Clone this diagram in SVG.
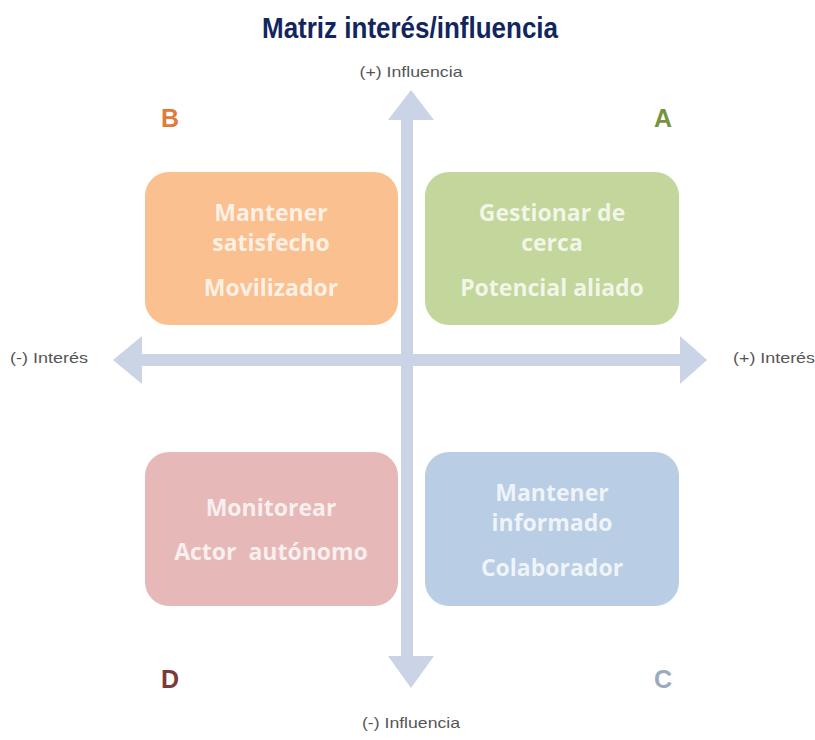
<svg xmlns="http://www.w3.org/2000/svg" width="815" height="740" viewBox="0 0 815 740">
<style>
.title{font-family:"Liberation Sans",Arial,sans-serif;font-weight:bold;font-size:30px;fill:#12255f;}
.lbl{font-family:"Liberation Sans",Arial,sans-serif;font-size:15px;fill:#555;}
.q{font-family:"Liberation Sans",Arial,sans-serif;font-weight:bold;font-size:25px;}
.bx{font-family:"Open Sans","Noto Sans",sans-serif;font-weight:bold;font-size:23px;fill:#ffffff;fill-opacity:0.78;text-anchor:middle;}
.arr{fill:#cbd3e6;}
</style>
<rect width="815" height="740" fill="#ffffff"/>
<text class="title" x="410" y="38" text-anchor="middle" textLength="296" lengthAdjust="spacingAndGlyphs">Matriz interés/influencia</text>
<g id="connectors">
<path class="arr" d="M401,120 L388,120 L411,90 L434,120 L413,120 L413,354 L680,354 L680,336 L707,360 L680,384 L680,366 L413,366 L413,656 L434,656 L411,688 L388,656 L401,656 L401,366 L142,366 L142,384 L113,360 L142,336 L142,354 L401,354 Z"/>
</g>
<g id="label-top"><text class="lbl" x="411" y="77" text-anchor="middle" textLength="103" lengthAdjust="spacingAndGlyphs">(+) Influencia</text></g>
<g id="label-bottom"><text class="lbl" x="411" y="728" text-anchor="middle" textLength="98" lengthAdjust="spacingAndGlyphs">(-) Influencia</text></g>
<g id="label-left"><text class="lbl" x="10" y="363" textLength="78" lengthAdjust="spacingAndGlyphs">(-) Interés</text></g>
<g id="label-right"><text class="lbl" x="733" y="363" textLength="82" lengthAdjust="spacingAndGlyphs">(+) Interés</text></g>
<g id="letter-B"><text class="q" x="161" y="127" fill="#e07b39">B</text></g>
<g id="letter-A"><text class="q" x="654" y="127" fill="#77933c">A</text></g>
<g id="letter-D"><text class="q" x="161" y="688" fill="#7b3a3a">D</text></g>
<g id="letter-C"><text class="q" x="654" y="688" fill="#9aabbe">C</text></g>
<g id="box-B">
<rect x="145" y="172" width="253" height="153" rx="24" fill="#fac090"/>
<text class="bx" x="271" y="221">Mantener</text>
<text class="bx" x="271" y="251">satisfecho</text>
<text class="bx" x="271" y="296">Movilizador</text>
</g>
<g id="box-A">
<rect x="425" y="172" width="254" height="153" rx="24" fill="#c3d69b"/>
<text class="bx" x="552" y="221">Gestionar de</text>
<text class="bx" x="552" y="251">cerca</text>
<text class="bx" x="552" y="296">Potencial aliado</text>
</g>
<g id="box-D">
<rect x="145" y="452" width="253" height="154" rx="24" fill="#e6b9b8"/>
<text class="bx" x="271" y="516">Monitorear</text>
<text class="bx" x="271" y="560" xml:space="preserve">Actor  autónomo</text>
</g>
<g id="box-C">
<rect x="425" y="452" width="254" height="154" rx="24" fill="#b9cde5"/>
<text class="bx" x="552" y="501">Mantener</text>
<text class="bx" x="552" y="531">informado</text>
<text class="bx" x="552" y="576">Colaborador</text>
</g>
</svg>
